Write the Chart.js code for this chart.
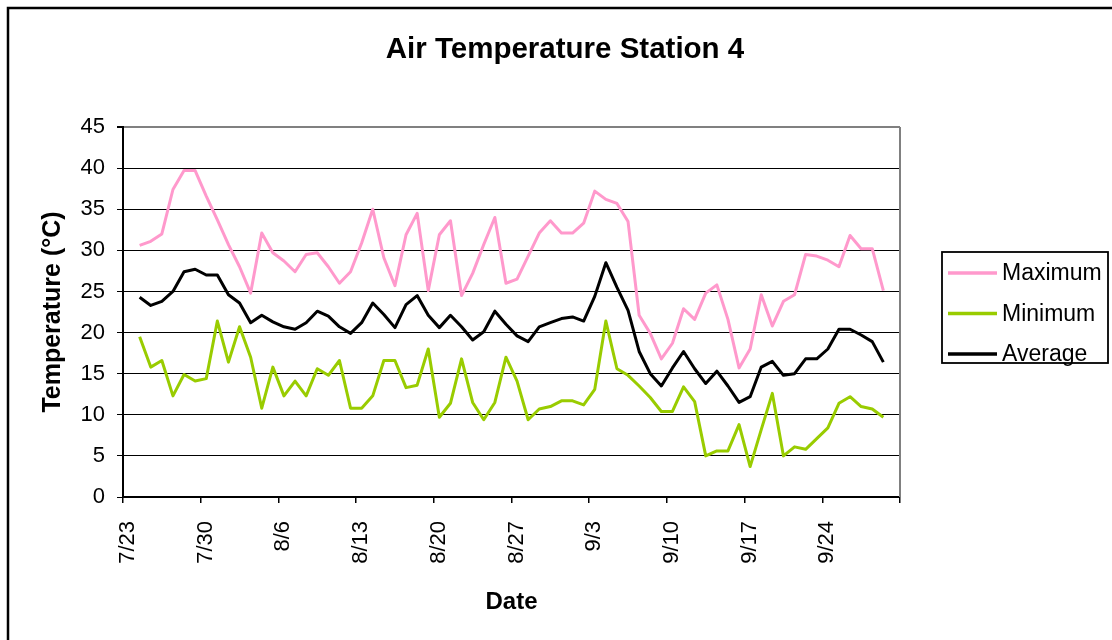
<!DOCTYPE html>
<html><head><meta charset="utf-8">
<script src="https://cdn.jsdelivr.net/npm/chart.js@4"></script>
<style>html,body{margin:0;padding:0;background:#fff;overflow:hidden;}</style>
</head><body>
<canvas id="c" width="1112" height="640"></canvas>
<script>
const dates = ['7/24','7/25','7/26','7/27','7/28','7/29','7/30','7/31',
  '8/1','8/2','8/3','8/4','8/5','8/6','8/7','8/8','8/9','8/10','8/11','8/12','8/13','8/14','8/15','8/16',
  '8/17','8/18','8/19','8/20','8/21','8/22','8/23','8/24','8/25','8/26','8/27','8/28','8/29','8/30','8/31',
  '9/1','9/2','9/3','9/4','9/5','9/6','9/7','9/8','9/9','9/10','9/11','9/12','9/13','9/14','9/15','9/16',
  '9/17','9/18','9/19','9/20','9/21','9/22','9/23','9/24','9/25','9/26','9/27','9/28','9/29'];
const maxTemps = [30.6,31.1,32.0,37.4,39.7,39.7,36.6,33.7,30.7,28.0,24.8,32.1,29.7,28.7,27.4,29.5,29.7,28.0,
  26.0,27.4,30.9,35.0,29.1,25.7,31.9,34.5,25.1,31.9,33.6,24.5,27.2,30.7,34.0,26.0,26.5,29.3,32.1,33.6,32.1,
  32.1,33.3,37.2,36.2,35.7,33.5,22.1,19.9,16.8,18.7,22.9,21.6,24.8,25.8,21.6,15.7,18.0,24.6,20.8,23.8,24.6,
  29.5,29.3,28.8,28.0,31.8,30.2,30.2,25.1];
const minTemps = [19.5,15.8,16.6,12.3,14.9,14.1,14.4,21.4,16.4,20.7,17.0,10.8,15.8,12.3,14.1,12.3,15.6,14.8,
  16.6,10.8,10.8,12.3,16.6,16.6,13.3,13.6,18.0,9.7,11.4,16.8,11.5,9.4,11.5,17.0,14.1,9.4,10.7,11.0,11.7,
  11.7,11.2,13.1,21.4,15.6,14.8,13.5,12.1,10.4,10.4,13.4,11.6,5.0,5.6,5.6,8.8,3.7,8.2,12.6,5.0,6.1,
  5.8,7.1,8.4,11.4,12.2,11.0,10.7,9.7];
const avgTemps = [24.3,23.3,23.8,25.0,27.4,27.7,27.0,27.0,24.6,23.6,21.2,22.1,21.3,20.7,20.4,21.2,22.6,22.0,
  20.7,19.9,21.2,23.6,22.2,20.6,23.4,24.5,22.1,20.6,22.1,20.7,19.1,20.1,22.6,21.0,19.6,18.9,20.7,21.2,21.7,
  21.9,21.4,24.4,28.5,25.5,22.7,17.7,15.0,13.5,15.7,17.7,15.6,13.8,15.3,13.5,11.5,12.2,15.8,16.5,14.8,15.0,
  16.8,16.8,18.0,20.4,20.4,19.7,18.9,16.4];
const xTickLabels = ['7/23','7/30','8/6','8/13','8/20','8/27','9/3','9/10','9/17','9/24',''];
const seriesNames = ['Maximum','Minimum','Average'];
const seriesColors = ['#FF99CC','#99CC00','#000000'];

const monthStart = {7:0, 8:31, 9:62, 10:92};
function dayOffset(s){ const [m,d] = s.split('/').map(Number); return monthStart[m] + d - 1 - 22; }
function toPoints(vals){ return dates.map((d,i)=>({x: dayOffset(d)+0.5, y: vals[i]})); }

Chart.defaults.font.family = "'Liberation Sans', Arial, sans-serif";
Chart.defaults.color = '#000';

const frame = {
  id:'frame',
  beforeDraw(chart){
    const c = chart.ctx; c.save();
    c.fillStyle='#fff'; c.fillRect(0,0,chart.width,chart.height);
    c.restore();
  },
  afterDraw(chart){
    const c = chart.ctx, a = chart.chartArea; c.save();
    c.strokeStyle='#000'; c.lineWidth=2.5;
    c.beginPath(); c.moveTo(8,chart.height+5); c.lineTo(8,8); c.lineTo(chart.width+5,8); c.stroke();
    c.strokeStyle='#808080'; c.lineWidth=2;
    c.beginPath(); c.moveTo(a.right,a.top); c.lineTo(a.right,a.bottom); c.stroke();
    const lx=942, ly=252, lw=166, lh=111;
    c.strokeStyle='#000'; c.lineWidth=1.8; c.strokeRect(lx,ly,lw,lh);
    c.font="23px 'Liberation Sans', Arial, sans-serif"; c.textBaseline='middle'; c.textAlign='left';
    chart.data.datasets.forEach((ds,i)=>{
      const y = 273 + i*40.5;
      c.strokeStyle=ds.borderColor; c.lineWidth=3.5;
      c.beginPath(); c.moveTo(948,y); c.lineTo(997,y); c.stroke();
      c.fillStyle='#000'; c.fillText(ds.label, 1002, y+1);
    });
    c.restore();
  }
};

new Chart(document.getElementById('c'), {
  type:'line',
  data:{ datasets:[
    {label:seriesNames[0], data:toPoints(maxTemps), borderColor:seriesColors[0], backgroundColor:seriesColors[0]},
    {label:seriesNames[1], data:toPoints(minTemps), borderColor:seriesColors[1], backgroundColor:seriesColors[1]},
    {label:seriesNames[2], data:toPoints(avgTemps), borderColor:seriesColors[2], backgroundColor:seriesColors[2]}
  ]},
  options:{
    responsive:false, animation:false, devicePixelRatio:1,
    layout:{padding:{left:18,top:0,right:0,bottom:0}},
    elements:{ line:{borderWidth:3, tension:0, borderJoinStyle:'round'}, point:{radius:0, hoverRadius:0} },
    plugins:{
      legend:{display:false}, tooltip:{enabled:false},
      title:{display:true, text:'Air Temperature Station 4', color:'#000',
        font:{size:29.5, weight:'bold'}, padding:{top:32, bottom:59.6}}
    },
    scales:{
      x:{ type:'linear', min:0, max:70,
        afterFit(s){ s.height = 143; },
        border:{color:'#000', width:2},
        grid:{drawOnChartArea:false, drawTicks:true, tickLength:6, color:'#000', lineWidth:1.5},
        ticks:{stepSize:7, autoSkip:false, maxRotation:90, minRotation:90, padding:18, labelOffset:5,
          font:{size:22}, color:'#000',
          callback:(v)=> xTickLabels[Math.round(v/7)] ?? ''},
        title:{display:true, text:'Date', font:{size:24, weight:'bold'}, color:'#000', padding:{top:0,bottom:23.6}}
      },
      y:{ min:0, max:45,
        afterFit(s){ s.width = 105; },
        border:{color:'#000', width:2},
        grid:{drawTicks:true, tickLength:6, tickColor:'#000',
          color:(ctx)=> ctx.tick && ctx.tick.value===45 ? '#808080' : '#000',
          lineWidth:(ctx)=> ctx.tick && ctx.tick.value===45 ? 2 : 1},
        ticks:{stepSize:5, padding:12, font:{size:22}, color:'#000'},
        title:{display:true, text:'Temperature (°C)', font:{size:25, weight:'bold'}, color:'#000', padding:{top:20,bottom:0}}
      },
      yRight:{ position:'right', min:0, max:45,
        afterFit(s){ s.width = 212; },
        border:{display:false}, grid:{display:false}, ticks:{display:false}
      }
    }
  },
  plugins:[frame]
});
</script>
</body></html>
